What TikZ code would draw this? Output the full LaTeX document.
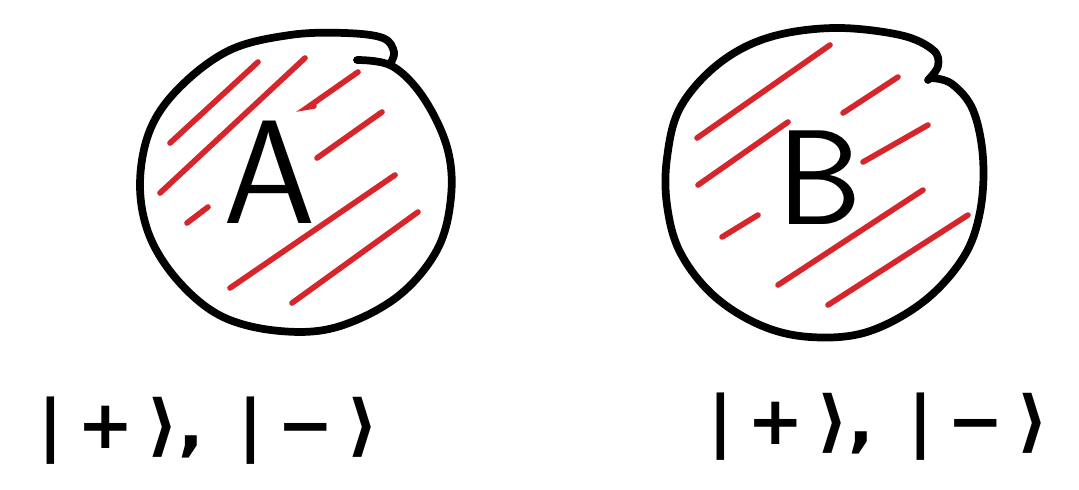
\RequirePackage{fix-cm}
\documentclass[tikz,border=0pt]{standalone}
\usepackage{fontspec}
\newfontfamily\ketfont{DejaVu Sans}
\usetikzlibrary{positioning}
\definecolor{hatchred}{RGB}{214,38,44}
\tikzset{
  ring/.style = {draw=black, line width=5.5pt, line cap=round, line join=round},
  hatch/.style = {draw=hatchred, line width=4pt, line cap=round},
  letter/.style = {inner sep=0pt, font=\sffamily\fontsize{105}{105}\selectfont},
  ketlabel/.style = {inner sep=0pt, anchor=base west, font=\ketfont\bfseries\fontsize{48}{48}\selectfont}
}
\newcommand{\kets}{|\hspace{.22em}+\hspace{.2em}⟩,\hspace{.5em}|\hspace{.22em}−\hspace{.2em}⟩}

\begin{document}
\begin{tikzpicture}[x=0.025cm, y=-0.025cm]
\useasboundingbox (0,0) rectangle (1079,489);

% Circle A
\draw[ring] plot[smooth, tension=0.6] coordinates {(357,60) (392,66) (423,97) (447,147) (451,197) (437,250) (397,297) (337,327) (280,331) (223,317) (180,283) (150,237) (140,185) (150,130) (180,87) (230,50) (290,35) (345,33) (383,38) (394,52) (390,64)};
\draw[hatch] (258,62) -- (170,143);
\draw[hatch] (305,58) -- (160,193);
\draw[hatch] (358,72) -- (308,107) -- (314,106);
\draw[hatch] (382,112) -- (317,158);
\draw[hatch] (208,207) -- (187,223);
\draw[hatch] (395,175) -- (230,288);
\draw[hatch] (418,212) -- (292,303);
\node[letter] (letA) at (270,172) {A};

% Circle B
\draw[ring] plot[smooth, tension=0.6] coordinates {(932,78) (952,84) (973,110) (983,158) (980,212) (963,258) (923,302) (867,332) (810,337) (760,325) (713,295) (680,252) (667,205) (667,158) (680,108) (717,65) (767,38) (833,28) (900,35) (933,50) (938,66) (928,80)};
\draw[hatch] (830,45) -- (697,138);
\draw[hatch] (788,122) -- (698,185);
\draw[hatch] (898,77) -- (843,113);
\draw[hatch] (928,125) -- (863,162);
\draw[hatch] (758,215) -- (722,237);
\draw[hatch] (923,190) -- (778,285);
\draw[hatch] (968,215) -- (828,305);
\node[letter, font=\sffamily\fontsize{96}{96}\selectfont] (letB) at (820,178) {B};

% Labels
\node[ketlabel] (labA) at (38,448) {\kets};
\node[ketlabel] (labB) at (708,444) {\kets};

\end{tikzpicture}
\end{document}
